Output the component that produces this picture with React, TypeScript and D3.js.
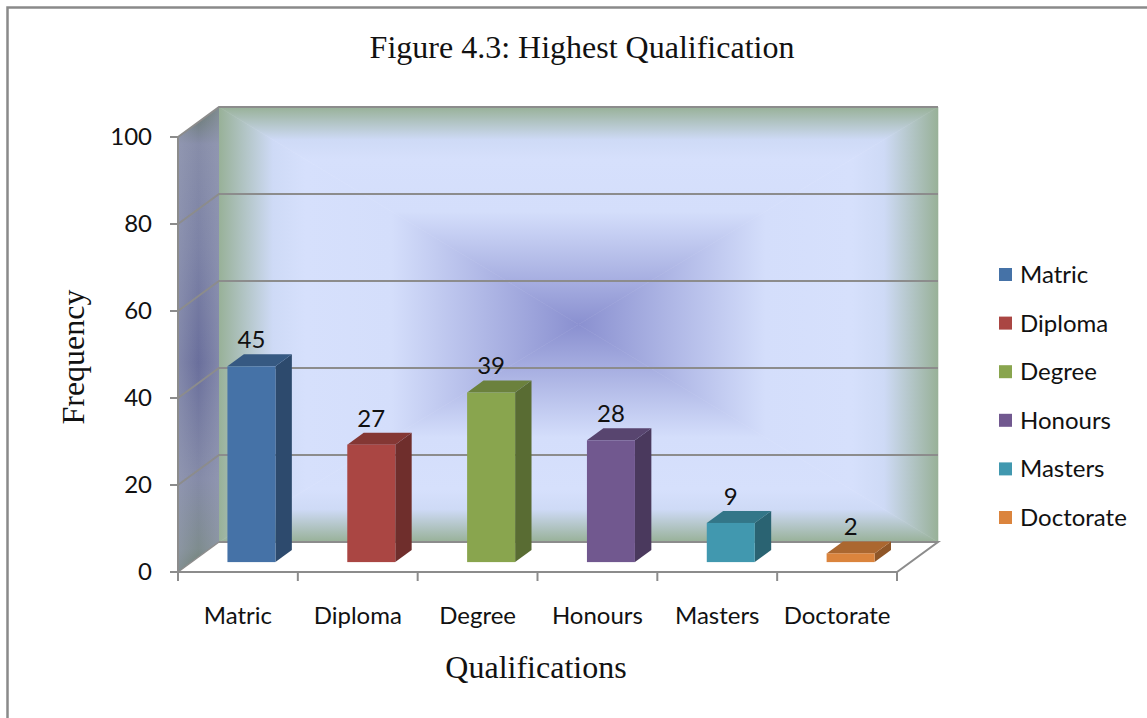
import { useRef, useEffect } from "react";
import * as d3 from "d3";

const categories = ["Matric", "Diploma", "Degree", "Honours", "Masters", "Doctorate"];
const frequencies = [45, 27, 39, 28, 9, 2];
const barColors = ["#4572A7", "#AA4643", "#89A54E", "#71588F", "#4198AF", "#DB843D"];
const yTicks = [0, 20, 40, 60, 80, 100];

const W = 1147;
const H = 718;
const labelFont = "Lato, 'Open Sans', sans-serif";
const serif = "'Liberation Serif', 'DejaVu Serif', serif";

export default function App() {
  const svgRef = useRef<SVGSVGElement>(null);

  useEffect(() => {
    if (!svgRef.current) return;
    const svg = d3.select(svgRef.current);
    svg.selectAll("*").remove();

    // front plane of the 3d box
    const left = 178, right = 897, base = 572, top = 137;
    const depthX = 41, depthY = 30; // offset of the back wall
    const proj = (x: number, y: number, z: number) => [x + z * depthX, y - z * depthY];

    const x = d3.scaleBand<string>().domain(categories).range([left, right]);
    const y = d3.scaleLinear().domain([0, 100]).range([base, top]);

    const defs = svg.append("defs");

    // frame
    svg.append("path")
      .attr("d", `M7.5,${H} L7.5,7.5 L${W},7.5`)
      .attr("fill", "none").attr("stroke", "#8a8a8a").attr("stroke-width", 2.5);

    // title
    svg.append("text")
      .attr("x", 582).attr("y", 58)
      .attr("text-anchor", "middle")
      .attr("font-family", serif).attr("font-size", 32).attr("fill", "#111")
      .text("Figure 4.3: Highest Qualification");

    // back wall corners
    const [bx0, by0] = proj(left, top, 1);
    const [bx1, by1] = proj(right, base, 1);
    const cx = (bx0 + bx1) / 2, cy = (by0 + by1) / 2;

    const stops = [
      [0, "#98B198"], [0.15, "#CEDAF6"], [0.24, "#D6E0FC"], [0.48, "#D4DEFB"], [1, "#8A90D0"],
    ] as const;
    const tri = [
      { id: "gT", pts: [[bx0, by0], [bx1, by0], [cx, cy]], g: [cx, by0, cx, cy] },
      { id: "gB", pts: [[bx0, by1], [bx1, by1], [cx, cy]], g: [cx, by1, cx, cy] },
      { id: "gL", pts: [[bx0, by0], [bx0, by1], [cx, cy]], g: [bx0, cy, cx, cy] },
      { id: "gR", pts: [[bx1, by0], [bx1, by1], [cx, cy]], g: [bx1, cy, cx, cy] },
    ];
    tri.forEach((t) => {
      const lg = defs.append("linearGradient").attr("id", t.id)
        .attr("gradientUnits", "userSpaceOnUse")
        .attr("x1", t.g[0]).attr("y1", t.g[1]).attr("x2", t.g[2]).attr("y2", t.g[3]);
      stops.forEach(([o, c]) => lg.append("stop").attr("offset", o).attr("stop-color", c));
    });
    const wall = svg.append("g");
    tri.forEach((t) => {
      wall.append("polygon")
        .attr("points", t.pts.map((p) => p.join(",")).join(" "))
        .attr("fill", `url(#${t.id})`)
        .attr("stroke", `url(#${t.id})`).attr("stroke-width", 0.6);
    });

    // side wall
    const sideGrad = defs.append("linearGradient").attr("id", "side")
      .attr("x1", 0).attr("y1", 0).attr("x2", 0).attr("y2", 1);
    [[0, "#66786A"], [0.08, "#878DA9"], [0.3, "#7D83A6"], [0.55, "#6A6F9C"], [0.8, "#858BA8"], [0.95, "#7E8C8E"], [1, "#6E8070"]]
      .forEach(([o, c]) => sideGrad.append("stop").attr("offset", o).attr("stop-color", c as string));
    const sidePts = [proj(left, top, 0), proj(left, top, 1), proj(left, base, 1), proj(left, base, 0)];
    svg.append("polygon").attr("points", sidePts.map((p) => p.join(",")).join(" ")).attr("fill", "url(#side)");
    const sideGlow = defs.append("linearGradient").attr("id", "sideGlow")
      .attr("x1", 0).attr("y1", 0).attr("x2", 1).attr("y2", 0);
    [[0, "#9AA0B8", 0.5], [0.5, "#9AA0B8", 0], [1, "#9AA0B8", 0.5]]
      .forEach(([o, c, a]) => sideGlow.append("stop").attr("offset", o as number).attr("stop-color", c as string).attr("stop-opacity", a as number));
    svg.append("polygon").attr("points", sidePts.map((p) => p.join(",")).join(" ")).attr("fill", "url(#sideGlow)");

    // floor
    const floorPts = [proj(left, base, 0), proj(right, base, 0), proj(right, base, 1), proj(left, base, 1)];
    svg.append("polygon").attr("points", floorPts.map((p) => p.join(",")).join(" ")).attr("fill", "#fff");

    const gridColor = "#8c8c8c";
    // gridlines: side wall + back wall
    yTicks.filter((t) => t > 0).forEach((t) => {
      const [sx, sy] = proj(left, y(t), 1);
      svg.append("path")
        .attr("d", `M${left},${y(t)} L${sx},${sy} L${bx1},${sy}`)
        .attr("fill", "none").attr("stroke", gridColor).attr("stroke-width", 2);
    });
    // floor outline
    svg.append("path")
      .attr("d", `M${floorPts[3].join(",")} L${floorPts[2].join(",")} L${floorPts[1].join(",")} L${floorPts[0].join(",")}`)
      .attr("fill", "none").attr("stroke", gridColor).attr("stroke-width", 2);
    svg.append("line")
      .attr("x1", left).attr("y1", base).attr("x2", floorPts[3][0]).attr("y2", floorPts[3][1])
      .attr("stroke", gridColor).attr("stroke-width", 1.5);

    // bars
    const barW = 48, z0 = 0.33, z1 = 0.73;
    const bars = svg.append("g");
    categories.forEach((c, i) => {
      const v = frequencies[i];
      const col = d3.color(barColors[i])!;
      const cxBand = (x(c) as number) + x.bandwidth() / 2;
      const [fx, fb] = proj(cxBand - barW / 2, y(0), z0);
      const [, ft] = proj(cxBand, y(v), z0);
      const ddx = (z1 - z0) * depthX, ddy = (z1 - z0) * depthY;
      // side face
      bars.append("polygon")
        .attr("points", [[fx + barW, ft], [fx + barW + ddx, ft - ddy], [fx + barW + ddx, fb - ddy], [fx + barW, fb]].map((p) => p.join(",")).join(" "))
        .attr("fill", col.darker(1.2).formatHex());
      // top face
      bars.append("polygon")
        .attr("points", [[fx, ft], [fx + ddx, ft - ddy], [fx + barW + ddx, ft - ddy], [fx + barW, ft]].map((p) => p.join(",")).join(" "))
        .attr("fill", col.darker(0.7).formatHex());
      // front face
      bars.append("rect")
        .attr("x", fx).attr("y", ft).attr("width", barW).attr("height", fb - ft)
        .attr("fill", barColors[i]);
      // value label
      bars.append("text")
        .attr("x", fx + barW / 2).attr("y", ft - ddy - 6)
        .attr("text-anchor", "middle")
        .attr("font-family", labelFont).attr("font-size", 24).attr("fill", "#111")
        .text(v);
    });

    // y axis
    const yAxis = svg.append("g");
    yAxis.append("line").attr("x1", left).attr("x2", left).attr("y1", top).attr("y2", base)
      .attr("stroke", gridColor).attr("stroke-width", 2);
    yTicks.forEach((t) => {
      yAxis.append("line").attr("x1", left - 8).attr("x2", left).attr("y1", y(t)).attr("y2", y(t))
        .attr("stroke", gridColor).attr("stroke-width", 2);
      yAxis.append("text")
        .attr("x", 152).attr("y", y(t) + 8)
        .attr("text-anchor", "end")
        .attr("font-family", labelFont).attr("font-size", 24).attr("fill", "#111")
        .text(t);
    });

    // x axis
    const xAxis = svg.append("g");
    const bounds = categories.map((c) => x(c) as number).concat([right]);
    bounds.forEach((b) => {
      xAxis.append("line").attr("x1", b).attr("x2", b).attr("y1", base).attr("y2", base + 9)
        .attr("stroke", gridColor).attr("stroke-width", 2);
    });
    categories.forEach((c) => {
      xAxis.append("text")
        .attr("x", (x(c) as number) + x.bandwidth() / 2).attr("y", 624)
        .attr("text-anchor", "middle")
        .attr("font-family", labelFont).attr("font-size", 24).attr("fill", "#111")
        .text(c);
    });

    // axis titles
    svg.append("text")
      .attr("x", 536).attr("y", 678)
      .attr("text-anchor", "middle")
      .attr("font-family", serif).attr("font-size", 32).attr("fill", "#111")
      .text("Qualifications");
    svg.append("text")
      .attr("transform", "translate(84,357) rotate(-90)")
      .attr("text-anchor", "middle")
      .attr("font-family", serif).attr("font-size", 32).attr("fill", "#111")
      .text("Frequency");

    // legend
    const legend = svg.append("g").attr("transform", "translate(999,275)");
    categories.forEach((c, i) => {
      const g = legend.append("g").attr("transform", `translate(0,${i * 48.6})`);
      g.append("rect").attr("x", 0).attr("y", -7).attr("width", 13).attr("height", 13)
        .attr("fill", barColors[i]);
      g.append("text").attr("x", 21).attr("y", 8)
        .attr("font-family", labelFont).attr("font-size", 24).attr("fill", "#111")
        .text(c);
    });
  }, []);

  return (
    <svg
      ref={svgRef}
      width={W}
      height={H}
      viewBox={`0 0 ${W} ${H}`}
      style={{ position: "absolute", left: 0, top: 0, background: "#fff" }}
    />
  );
}
